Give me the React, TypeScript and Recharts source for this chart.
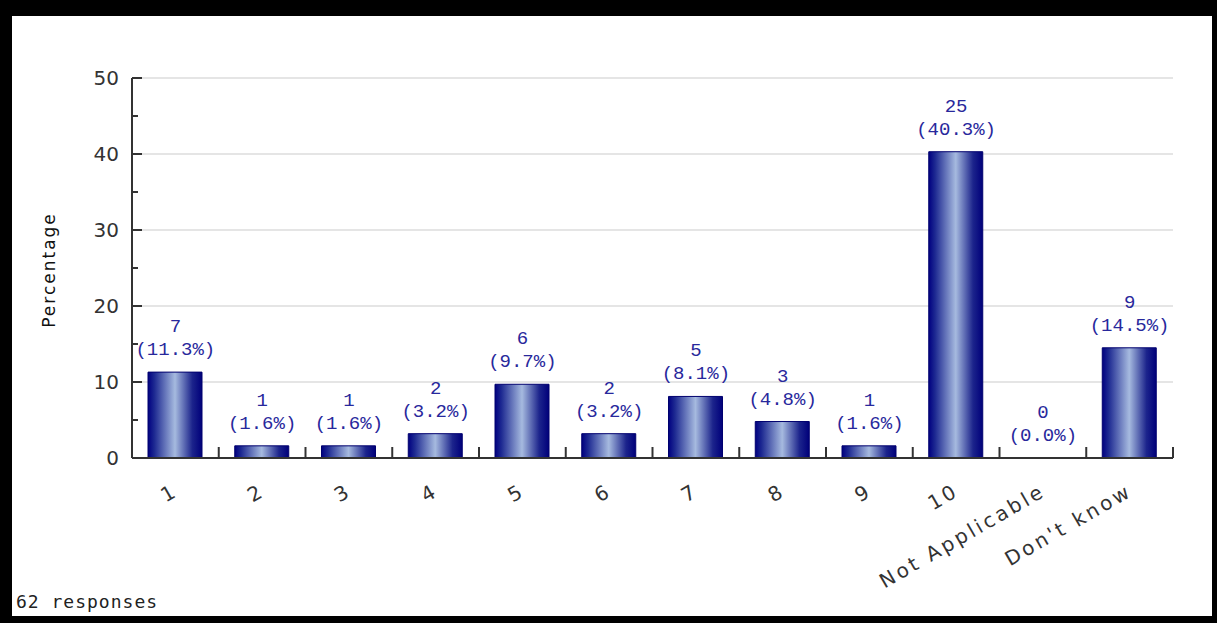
import { ComposedChart, Bar, Line, XAxis, YAxis, CartesianGrid, LabelList } from 'recharts';

const categories = ['1', '2', '3', '4', '5', '6', '7', '8', '9', '10', 'Not Applicable', "Don't know"];
const counts = [7, 1, 1, 2, 6, 2, 5, 3, 1, 25, 0, 9];
const percents = [11.3, 1.6, 1.6, 3.2, 9.7, 3.2, 8.1, 4.8, 1.6, 40.3, 0.0, 14.5];
const yTicks = [0, 5, 10, 15, 20, 25, 30, 35, 40, 45, 50];
const gridValues = [10, 20, 30, 40, 50];
const totalResponses = 62;

const data = categories.map((name, i) => ({ name, pct: percents[i], count: counts[i] }));

const AXIS = '#333';
const LABEL_BLUE = '#28289c';

function XTick(props: any) {
	const { x, y, payload } = props;
	const half = payload?.offset ?? 43.4;
	return (
		<g>
			<line x1={x + half} x2={x + half} y1={y} y2={y - 11} stroke={AXIS} strokeWidth={2} />
			<text
				x={x + 4}
				y={y + 37}
				transform={`rotate(-30, ${x + 4}, ${y + 37})`}
				textAnchor="end"
				fontSize={20}
				letterSpacing={3}
				fill={AXIS}
				fontFamily="DejaVu Sans"
			>
				{payload.value}
			</text>
		</g>
	);
}

function YTick(props: any) {
	const { x, y, payload } = props;
	const major = payload.value % 10 === 0;
	return (
		<g>
			<line x1={x} x2={x + (major ? 10 : 6)} y1={y} y2={y} stroke={AXIS} strokeWidth={2} />
			{major && (
				<text x={x - 13} y={y} dy="0.36em" textAnchor="end" fontSize={20} fill={AXIS} fontFamily="DejaVu Sans">
					{payload.value}
				</text>
			)}
		</g>
	);
}

// labels sit on an invisible line so the zero bar gets one too
function BarLabel(props: any) {
	const { x, y, index } = props;
	const cx = x + (props.width || 0) / 2;
	return (
		<g fontFamily="Liberation Mono" fontSize={19} fill={LABEL_BLUE} textAnchor="middle">
			<text x={cx} y={y - 40}>{counts[index]}</text>
			<text x={cx} y={y - 17}>({percents[index].toFixed(1)}%)</text>
		</g>
	);
}

function AxisTitle(props: any) {
	const vb = props.viewBox || { x: 52, y: 78, width: 80, height: 380 };
	const tx = vb.x + 3;
	const ty = vb.y + vb.height / 2 + 2;
	return (
		<text
			x={tx}
			y={ty}
			transform={`rotate(-90, ${tx}, ${ty})`}
			textAnchor="middle"
			fontSize={17}
			letterSpacing={2}
			fill="#111"
			fontFamily="DejaVu Sans"
		>
			Percentage
		</text>
	);
}

export default function App() {
	return (
		<div style={{ position: 'absolute', left: 0, top: 0, width: 1217, height: 623, background: '#000' }}>
			<div style={{ position: 'absolute', left: 12, top: 16, width: 1200, height: 600, background: '#fff' }} />
			<div style={{ position: 'absolute', left: 0, top: 0 }}>
				<ComposedChart width={1217} height={623} data={data} margin={{ top: 78, right: 44, bottom: 45, left: 52 }}>
					<defs>
						<linearGradient id="barGrad" x1="0" y1="0" x2="1" y2="0">
							<stop offset="0%" stopColor="#000080" />
							<stop offset="12%" stopColor="#1e2a92" />
							<stop offset="50%" stopColor="#a6badf" />
							<stop offset="82%" stopColor="#1c248c" />
							<stop offset="100%" stopColor="#00007a" />
						</linearGradient>
					</defs>
					<CartesianGrid vertical={false} horizontalValues={gridValues} stroke="#dcdcdc" strokeWidth={1.5} />
					<XAxis
						dataKey="name"
						interval={0}
						height={120}
						tickSize={0}
						tickMargin={0}
						tickLine={false}
						axisLine={{ stroke: AXIS, strokeWidth: 2 }}
						tick={<XTick />}
					/>
					<YAxis
						width={80}
						domain={[0, 50]}
						ticks={yTicks}
						interval={0}
						tickSize={0}
						tickMargin={0}
						tickLine={false}
						axisLine={{ stroke: AXIS, strokeWidth: 2 }}
						tick={<YTick />}
						label={(p: any) => <AxisTitle {...p} />}
					/>
					<Bar dataKey="pct" barSize={54} fill="url(#barGrad)" stroke="#00006e" strokeWidth={1} isAnimationActive={false} />
					<Line dataKey="pct" stroke="none" dot={false} activeDot={false} isAnimationActive={false}>
						<LabelList dataKey="pct" content={<BarLabel />} />
					</Line>
				</ComposedChart>
			</div>
			<div
				style={{
					position: 'absolute',
					left: 16,
					top: 594,
					fontFamily: 'DejaVu Sans Mono',
					fontSize: 18,
					lineHeight: '16px',
					letterSpacing: 1,
					color: '#222',
				}}
			>
				{totalResponses} responses
			</div>
		</div>
	);
}
